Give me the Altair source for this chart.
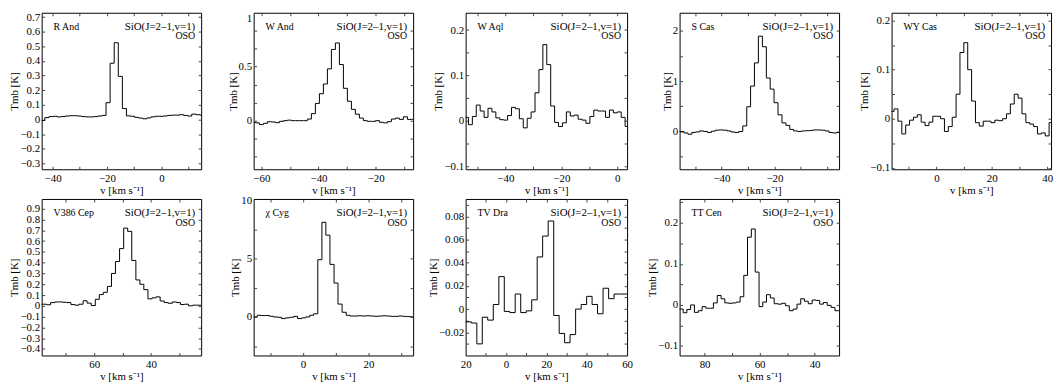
import altair as alt
import pandas as pd

FONT = "Liberation Serif"
LINE_LABEL = "SiO(J=2–1,v=1)"
OBS = "OSO"
XTITLE = "v [km s⁻¹]"
YTITLE = "Tmb [K]"

# ---------------- data ----------------
names = ["R And", "W And", "W Aql", "S Cas", "WY Cas", "V386 Cep", "χ Cyg", "TV Dra", "TT Cen"]

v1 = [-45.1, -43.6, -42.1, -40.6, -39.1, -37.6, -36.1, -34.6, -33.1, -31.6, -30.1, -28.6, -27.1, -25.6,
      -24.1, -22.6, -21.1, -19.6, -18.1, -16.6, -15.1, -13.6, -12.1, -10.6, -9.1, -7.6, -6.1, -4.6,
      -3.1, -1.6, -0.1, 1.4, 2.9, 4.4, 5.9, 7.4, 8.9, 10.4, 11.9, 13.4, 14.9]
t1 = [-0.007, -0.007, 0.013, 0.02, 0.022, 0.018, 0.02, 0.024, 0.026, 0.026, 0.024, 0.02, 0.018, 0.018,
      0.02, 0.024, 0.028, 0.115, 0.385, 0.525, 0.295, 0.075, 0.025, 0.022, 0.015, 0.01, 0.005, 0.011,
      0.018, 0.022, 0.022, 0.024, 0.028, 0.03, 0.03, 0.033, 0.028, 0.024, 0.037, 0.033, 0.03]

v2 = [-62.8, -61.4, -60.0, -58.6, -57.2, -55.8, -54.4, -53.0, -51.6, -50.2, -48.8, -47.4, -46.0, -44.6,
      -43.2, -41.8, -40.4, -39.0, -37.6, -36.2, -34.8, -33.4, -32.0, -30.6, -29.2, -27.8, -26.4, -25.0,
      -23.6, -22.2, -20.8, -19.4, -18.0, -16.6, -15.2, -13.8, -12.4, -11.0, -9.6, -8.2, -6.8]
t2 = [-0.015, -0.02, -0.036, -0.025, -0.01, -0.012, -0.018, -0.006, 0.0, 0.005, 0.0, 0.0, 0.0, 0.0,
      0.015, 0.065, 0.16, 0.25, 0.34, 0.48, 0.66, 0.72, 0.52, 0.30, 0.18, 0.105, 0.06, 0.024,
      0.0, -0.006, -0.006, 0.0, -0.015, -0.02, -0.009, 0.015, 0.024, 0.012, 0.036, 0.012, 0.012]

v3 = [-55.3, -53.9, -52.5, -51.1, -49.7, -48.3, -46.9, -45.5, -44.1, -42.7, -41.3, -39.9, -38.5, -37.1,
      -35.7, -34.3, -32.9, -31.5, -30.1, -28.7, -27.3, -25.9, -24.5, -23.1, -21.7, -20.3, -18.9, -17.5,
      -16.1, -14.7, -13.3, -11.9, -10.5, -9.1, -7.7, -6.3, -4.9, -3.5, -2.1, -0.7, 0.7, 2.1, 3.5]
t3 = [0.008, 0.008, -0.008, 0.01, 0.035, 0.022, 0.008, 0.028, 0.02, 0.007, 0.003, 0.002, 0.012, 0.03,
      0.027, 0.005, -0.015, 0.006, 0.02, 0.062, 0.113, 0.168, 0.124, 0.033, -0.003, -0.012, -0.004, 0.02,
      0.011, 0.013, 0.004, 0.002, -0.005, 0.01, 0.024, 0.022, 0.022, 0.008, 0.024, 0.018, 0.02, 0.008, -0.012]

v4 = [-56.4, -54.9, -53.4, -51.9, -50.5, -49.0, -47.5, -46.0, -44.5, -43.1, -41.6, -40.1, -38.6, -37.1,
      -35.7, -34.2, -32.7, -31.2, -29.7, -28.3, -26.8, -25.3, -23.8, -22.3, -20.9, -19.4, -17.9, -16.4,
      -14.9, -13.5, -12.0, -10.5, -9.0, -7.5, -6.1, -4.6, -3.1, -1.6, -0.1, 1.3, 2.8, 4.3, 5.8]
t4 = [0.0, 0.0, -0.03, -0.055, -0.02, -0.01, 0.01, 0.0, -0.02, 0.005, 0.025, 0.03, 0.025, 0.01,
      -0.01, -0.02, 0.0, 0.11, 0.49, 0.9, 1.36, 1.89, 1.68, 1.06, 0.84, 0.57, 0.33, 0.17,
      0.12, 0.04, 0.01, 0.0, 0.01, 0.015, 0.02, 0.03, 0.03, 0.025, 0.01, -0.02, -0.03, -0.02, -0.02]

v5 = [-17.4, -16.0, -14.6, -13.2, -11.8, -10.4, -9.0, -7.6, -6.2, -4.8, -3.4, -2.0, -0.6, 0.8, 2.2,
      3.6, 5.0, 6.4, 7.8, 9.2, 10.6, 12.0, 13.4, 14.8, 16.2, 17.6, 19.0, 20.4, 21.8, 23.2, 24.6,
      26.0, 27.4, 28.8, 30.2, 31.6, 33.0, 34.4, 35.8, 37.2, 38.6, 40.0, 41.4, 42.8]
t5 = [0.015, 0.015, 0.02, -0.005, -0.031, -0.013, -0.003, 0.003, 0.008, -0.007, -0.014, -0.007, 0.005, 0.005, 0.0,
      -0.026, -0.016, 0.003, 0.05, 0.135, 0.155, 0.10, 0.036, -0.008, -0.015, -0.005, -0.005, -0.008, -0.003, -0.004, 0.0,
      0.01, 0.03, 0.05, 0.042, 0.01, -0.008, -0.011, -0.016, -0.031, -0.029, -0.035, -0.008, -0.008]

v6 = [-78.9, -77.5, -76.1, -74.6, -73.2, -71.8, -70.4, -68.9, -67.5, -66.1, -64.6, -63.2, -61.8, -60.3,
      -58.9, -57.5, -56.1, -54.6, -53.2, -51.8, -50.3, -48.9, -47.5, -46.0, -44.6, -43.2, -41.8, -40.3,
      -38.9, -37.5, -36.0, -34.6, -33.2, -31.7, -30.3, -28.9, -27.5, -26.0, -24.6, -23.2, -21.7]
t6 = [0.015, 0.015, 0.01, 0.03, 0.036, 0.036, 0.033, 0.03, 0.012, 0.006, 0.015, 0.047, 0.025, 0.003,
      0.06, 0.104, 0.125, 0.18, 0.30, 0.41, 0.53, 0.72, 0.69, 0.42, 0.24, 0.20, 0.15, 0.065,
      0.074, 0.083, 0.045, 0.03, 0.024, 0.036, 0.03, 0.012, 0.015, 0.0, 0.006, 0.006, 0.006]

v7 = [-15.8, -14.5, -13.3, -12.1, -10.8, -9.6, -8.4, -7.1, -5.9, -4.7, -3.4, -2.2, -1.0, 0.3, 1.5,
      2.7, 3.9, 5.2, 6.4, 7.6, 8.9, 10.1, 11.3, 12.6, 13.8, 15.0, 16.2, 17.5, 18.7, 19.9, 21.2,
      22.4, 23.6, 24.9, 26.1, 27.3, 28.5, 29.8, 31.0, 32.2, 33.5, 34.7]
t7 = [0.0, 0.0, 0.14, 0.12, 0.12, 0.06, 0.0, -0.03, -0.14, -0.08, -0.03, 0.05, -0.14, -0.08, 0.0,
      0.14, 0.27, 4.9, 8.1, 7.0, 4.5, 2.9, 1.1, 0.4, 0.14, 0.08, 0.08, 0.1, 0.08, 0.1, 0.08,
      0.05, 0.08, 0.1, 0.08, 0.05, 0.05, 0.08, 0.05, 0.03, 0.0, 0.0]

v8 = [-21.3, -18.5, -15.8, -13.1, -10.4, -7.7, -4.9, -2.2, 0.5, 3.2, 5.9, 8.7, 11.4, 14.1, 16.8,
      19.5, 22.3, 25.0, 27.7, 30.4, 33.1, 35.9, 38.6, 41.3, 44.0, 46.7, 49.5, 52.2, 54.9, 57.6, 60.3]
t8 = [-0.011, -0.011, -0.012, -0.03, -0.007, -0.0095, 0.004, 0.028, -0.002, -0.003, 0.013, -0.003, -0.0015, 0.008, 0.045,
      0.063, 0.076, -0.0055, -0.021, -0.029, -0.022, 0.0, 0.004, 0.011, 0.004, -0.004, 0.018, 0.009, 0.013, 0.013, 0.013]

v9 = [-89.9, -88.5, -87.1, -85.8, -84.4, -83.0, -81.6, -80.2, -78.9, -77.5, -76.1, -74.7, -73.3, -72.0,
      -70.6, -69.2, -67.8, -66.4, -65.1, -63.7, -62.3, -60.9, -59.5, -58.2, -56.8, -55.4, -54.0, -52.6,
      -51.3, -49.9, -48.5, -47.1, -45.7, -44.4, -43.0, -41.6, -40.2, -38.8, -37.5, -36.1, -34.7, -33.3,
      -31.9, -30.6]
t9 = [-0.01, -0.01, -0.019, -0.011, 0.0, -0.018, -0.014, -0.004, -0.008, -0.008, 0.005, 0.023, 0.015, 0.005,
      0.004, 0.005, 0.007, 0.02, 0.072, 0.165, 0.185, 0.08, -0.004, 0.007, 0.025, 0.017, 0.003, 0.002,
      0.004, -0.002, -0.014, -0.01, 0.002, 0.015, 0.009, 0.003, 0.012, 0.011, 0.002, 0.006, -0.001, -0.006,
      -0.014, -0.014]

# axis extents
xdoms = [[-44, 14.6], [-62.7, -6.9], [-54.2, 3.5], [-55.8, 4.4], [-16.2, 41.4],
         [-78.5, -22.3], [-15, 33.6], [-20, 60], [-89.1, -31.1]]
ydoms = [[-0.34, 0.73], [-0.45, 1.0], [-0.106, 0.238], [-0.75, 2.355], [-0.103, 0.216],
         [-0.46, 0.99], [-3.3, 10.1], [-0.04, 0.095], [-0.123, 0.258]]

# tick labels
xlabs = [[-40, -20, 0], [-60, -40, -20], [-40, -20, 0], [-40, -20], [0, 20, 40],
         [-60, -40], [0, 20], [-20, 0, 20, 40, 60], [-80, -60, -40]]
xticks = [[-40, -30, -20, -10, 0, 10], [-60, -50, -40, -30, -20, -10], [-50, -40, -30, -20, -10, 0],
          [-50, -40, -30, -20, -10, 0], [-10, 0, 10, 20, 30, 40], [-70, -60, -50, -40, -30],
          [-10, 0, 10, 20, 30], [-10, 0, 10, 20, 30, 40, 50], [-80, -70, -60, -50, -40]]
ylabs = [[-0.3, -0.2, -0.1, 0, 0.1, 0.2, 0.3, 0.4, 0.5, 0.6, 0.7],
         [0, 0.5, 1],
         [-0.1, 0, 0.1, 0.2],
         [0, 1, 2],
         [-0.1, 0, 0.1, 0.2],
         [-0.4, -0.3, -0.2, -0.1, 0, 0.1, 0.2, 0.3, 0.4, 0.5, 0.6, 0.7, 0.8, 0.9],
         [0, 5, 10],
         [-0.02, 0, 0.02, 0.04, 0.06, 0.08],
         [-0.1, 0, 0.1, 0.2]]
yticks = [[-0.3, -0.2, -0.1, 0, 0.1, 0.2, 0.3, 0.4, 0.5, 0.6, 0.7],
          [-0.3333, -0.1667, 0, 0.1667, 0.3333, 0.5, 0.6667, 0.8333],
          [-0.1, -0.05, 0, 0.05, 0.1, 0.15, 0.2],
          [-0.5, 0, 0.5, 1, 1.5, 2],
          [-0.1, -0.05, 0, 0.05, 0.1, 0.15, 0.2],
          [-0.4, -0.3, -0.2, -0.1, 0, 0.1, 0.2, 0.3, 0.4, 0.5, 0.6, 0.7, 0.8, 0.9],
          [-2.5, 0, 2.5, 5, 7.5],
          [-0.03, -0.02, -0.01, 0, 0.01, 0.02, 0.03, 0.04, 0.05, 0.06, 0.07, 0.08, 0.09],
          [-0.1, -0.05, 0, 0.05, 0.1, 0.15, 0.2, 0.25]]
abs_xlabels = [False, False, False, False, False, True, False, True, True]

vs = [v1, v2, v3, v4, v5, v6, v7, v8, v9]
ts = [t1, t2, t3, t4, t5, t6, t7, t8, t9]
widths = [161, 161, 163, 161, 161, 161, 161, 163, 161]
H = 158

one = pd.DataFrame({"a": [0]})

PLAIN = "format(datum.value, '~g')"
ABS = "format(abs(datum.value), '~g')"


def note(text, x, y, align, size):
    return alt.Chart(one).mark_text(
        text=text, align=align, baseline="middle", font=FONT, fontSize=size, color="black"
    ).encode(x=alt.value(x), y=alt.value(y))


def panel(i):
    df = pd.DataFrame({"v": vs[i], "t": ts[i]})
    w = widths[i]
    xs = alt.Scale(domain=xdoms[i], nice=False, zero=False)
    ys = alt.Scale(domain=ydoms[i], nice=False, zero=False)
    line = alt.Chart(df).mark_line(
        interpolate="step", color="black", strokeWidth=1, clip=True
    ).encode(
        x=alt.X("v:Q", scale=xs, axis=alt.Axis(
            orient="bottom", values=xlabs[i], ticks=False, tickSize=0, domain=False,
            labelPadding=3, labelFlush=False, labelOverlap=False,
            labelExpr=ABS if abs_xlabels[i] else PLAIN,
            title=XTITLE, titlePadding=1)),
        y=alt.Y("t:Q", scale=ys, axis=alt.Axis(
            orient="left", values=ylabs[i], ticks=False, tickSize=0, domain=False,
            labelPadding=2, labelFlush=1, labelOverlap=False, labelExpr=PLAIN,
            title=YTITLE, titlePadding=0)),
    )

    def ticks(xo, yo):
        return alt.Chart(df).mark_line(opacity=0).encode(
            x=alt.X("v:Q", scale=xs, axis=alt.Axis(
                orient=xo, offset=-3, values=xticks[i], labels=False, domain=False,
                ticks=True, tickSize=3, tickColor="#444", tickWidth=1, title=None)),
            y=alt.Y("t:Q", scale=ys, axis=alt.Axis(
                orient=yo, offset=-3, values=yticks[i], labels=False, domain=False,
                ticks=True, tickSize=3, tickColor="#444", tickWidth=1, title=None)),
        )

    layers = [
        line,
        ticks("bottom", "left"),
        ticks("top", "right"),
        note(names[i], 12, 14, "left", 10),
        note(LINE_LABEL, w - 6, 14, "right", 11),
        note(OBS, w - 6, 24, "right", 10),
    ]
    return alt.layer(*layers).resolve_axis(x="independent", y="independent").properties(
        width=w, height=H
    )


panels = [panel(i) for i in range(9)]

chart = alt.concat(
    *panels, columns=5, spacing={"row": 30, "column": 53}, bounds="flush"
).properties(
    padding=0, background="white"
).configure_view(
    stroke="black", strokeWidth=1
).configure_axis(
    labelFont=FONT, titleFont=FONT, labelFontSize=11, titleFontSize=11,
    titleFontWeight="normal", labelColor="black", titleColor="black", grid=False
)

chart.save("out.html", embed_options={"renderer": "svg", "actions": False})
